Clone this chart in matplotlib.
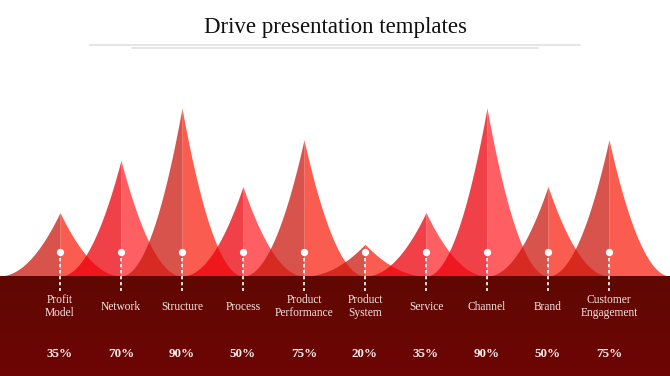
import numpy as np
import matplotlib
matplotlib.use("Agg")
import matplotlib.pyplot as plt
from matplotlib.lines import Line2D

# ---------------- data ----------------
title = "Drive presentation templates"
categories = ["Profit\nModel", "Network", "Structure", "Process", "Product\nPerformance",
              "Product\nSystem", "Service", "Channel", "Brand", "Customer\nEngagement"]
values = [35, 70, 90, 50, 75, 20, 35, 90, 50, 75]            # labelled percentages
peak_heights = [34, 62, 90, 48, 73, 17, 34, 90, 48, 73]      # visual peak heights
schemes = ["A", "B", "A", "B", "A", "A", "B", "B", "A", "A"]  # colour scheme of each peak

# ---------------- style ----------------
W, H = 670, 376
colors = {"A": ("#CB190E", "#FA2616"), "B": ("#EB000A", "#FE2A2E")}
ALPHA = 0.75
serif = ["Liberation Serif", "DejaVu Serif"]
px_per_unit = 168 / 90.0
base_px = 276            # baseline from top (pixels)
spacing_px = 61.0
first_px = 60.0

fig = plt.figure(figsize=(W / 100, H / 100), dpi=100)
ax = fig.add_axes([0, 0, 1, 1])
ax.set_xlim(-first_px / spacing_px, (W - first_px) / spacing_px)
ymin = -(H - base_px) / px_per_unit
ymax = base_px / px_per_unit
ax.set_ylim(ymin, ymax)
ax.axis("off")

# peaks
u = np.linspace(0, 1, 200)
for i, (h, s) in enumerate(zip(peak_heights, schemes)):
    cl, cr = colors[s]
    xl = i - 1 + u
    yl = h * u ** 2
    ax.fill_between(xl, 0, yl, color=cl, alpha=ALPHA, lw=0, zorder=2)
    xr = i + u
    yr = h * (1 - u) ** 2
    ax.fill_between(xr, 0, yr, color=cr, alpha=ALPHA, lw=0, zorder=2)

# bottom band (vertical gradient)
grad = np.linspace(0, 1, 256).reshape(-1, 1)
top_c = np.array([0x60, 0x08, 0x01]) / 255
bot_c = np.array([0x6D, 0x05, 0x04]) / 255
img = top_c[None, None, :] * (1 - grad[:, :, None]) + bot_c[None, None, :] * grad[:, :, None]
x0, x1 = ax.get_xlim()
ax.imshow(img, extent=[x0, x1, ymin, 0], origin="upper", aspect="auto", zorder=3)
ax.set_xlim(x0, x1)
ax.set_ylim(ymin, ymax)

# dashed markers, labels and values
dot_y = (base_px - 252) / px_per_unit
dash_bottom = (base_px - 291) / px_per_unit
lab_y = (base_px - 306.5) / px_per_unit
val_y = (base_px - 354) / px_per_unit
for i, (cat, v) in enumerate(zip(categories, values)):
    ax.plot([i, i], [dot_y, dash_bottom], color="white", lw=1.2,
            linestyle=(0, (2, 1.6)), zorder=5)
    ax.plot([i], [dot_y], marker="o", ms=4.2, color="white", mec="white", zorder=6)
    ax.text(i, lab_y, cat, ha="center", va="center", color="#F3E6E6",
            fontsize=8.3, family=serif, linespacing=1.2, zorder=6)
    ax.text(i, val_y, f"{v}%", ha="center", va="center", color="#F8EEEE",
            fontsize=9.4, fontweight="bold", family=serif, zorder=6)

# title and rules
fig.text(0.5, 1 - 28 / H, title, ha="center", va="center", fontsize=16.5,
         family=serif, color="#111111")
fig.add_artist(Line2D([90 / W, 580 / W], [1 - 45 / H] * 2, color="#DEDEDE", lw=1.1,
                      transform=fig.transFigure))
fig.add_artist(Line2D([132 / W, 538 / W], [1 - 48.3 / H] * 2, color="#DEDEDE", lw=1.1,
                      transform=fig.transFigure))

fig.savefig("out.png", dpi=100)
